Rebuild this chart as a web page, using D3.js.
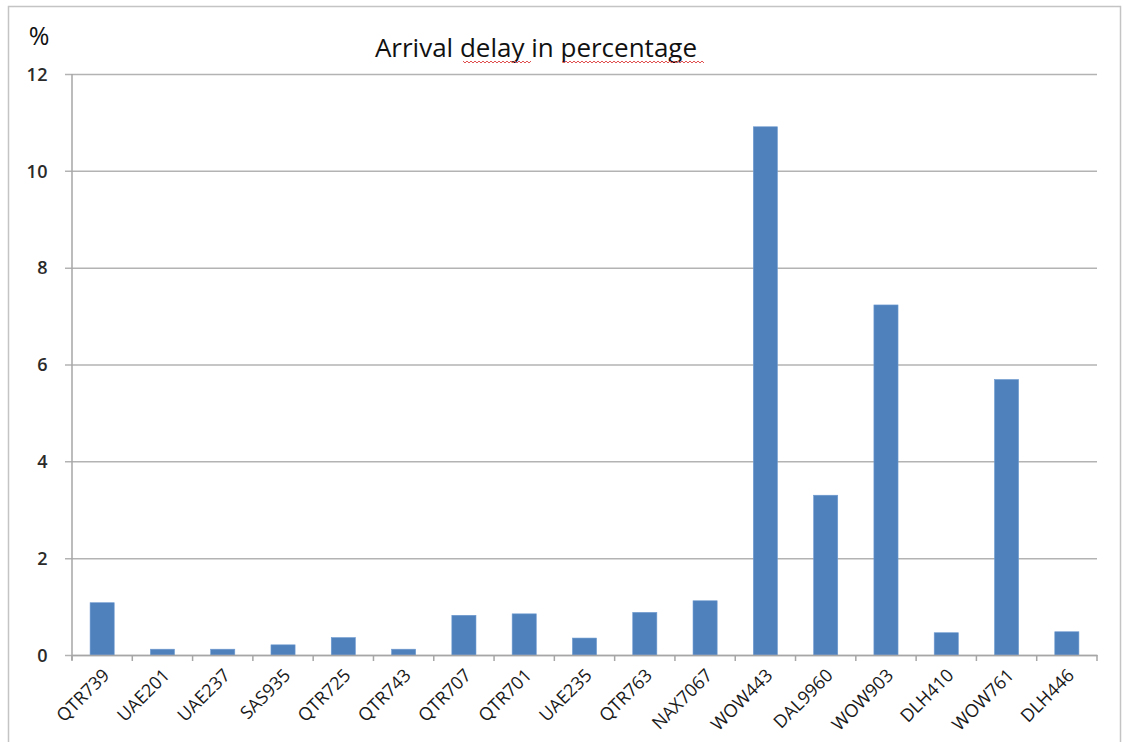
<!DOCTYPE html>
<html>
<head>
<meta charset="utf-8">
<script src="https://cdn.jsdelivr.net/npm/d3@7"></script>
<style>
  html, body { margin: 0; padding: 0; background: #fff; }
  svg { display: block; }
</style>
</head>
<body>
<svg id="chart" width="1123" height="742"></svg>
<script>
// Flights and their arrival delay share (%)
const flights = ["QTR739", "UAE201", "UAE237", "SAS935", "QTR725", "QTR743", "QTR707", "QTR701",
                 "UAE235", "QTR763", "NAX7067", "WOW443", "DAL9960", "WOW903", "DLH410", "WOW761", "DLH446"];
const delayPct = [1.08, 0.12, 0.12, 0.21, 0.36, 0.12, 0.82, 0.85,
                  0.35, 0.88, 1.12, 10.91, 3.30, 7.23, 0.46, 5.69, 0.48];
const yTicks = [0, 2, 4, 6, 8, 10, 12];
const chartTitle = "Arrival delay in percentage";
const unitLabel = "%";

const svg = d3.select("#chart");
const font = "'Open Sans', 'Noto Sans', sans-serif";

const plot = { left: 72, right: 1097, top: 74, bottom: 655 };

// outer chart frame
svg.append("rect")
  .attr("x", 8.5).attr("y", 6.5)
  .attr("width", 1112).attr("height", 760)
  .attr("fill", "#fff")
  .attr("stroke", "#c4c4c4").attr("stroke-width", 1.5);

const x = d3.scaleBand().domain(flights).range([plot.left, plot.right]).paddingInner(0).paddingOuter(0);
const y = d3.scaleLinear().domain([0, 12]).range([plot.bottom, plot.top]);

// horizontal gridlines with outward ticks
const yAxis = d3.axisLeft(y).tickValues(yTicks).tickSize(-(plot.right - plot.left)).tickFormat(d3.format("d"));
const gy = svg.append("g").attr("transform", `translate(${plot.left},0)`).call(yAxis);
gy.select(".domain").remove();
gy.selectAll(".tick line")
  .attr("x1", -7)
  .attr("stroke", "#b3b3b3").attr("stroke-width", 1.5);
gy.selectAll(".tick text")
  .attr("x", -24)
  .attr("dy", "0.35em")
  .attr("font-family", font).attr("font-size", 18).attr("font-weight", 600)
  .attr("letter-spacing", 0.5)
  .attr("fill", "#2a2a2a");

// vertical axis line
svg.append("line")
  .attr("x1", plot.left).attr("x2", plot.left)
  .attr("y1", plot.top).attr("y2", plot.bottom + 5)
  .attr("stroke", "#a6a6a6").attr("stroke-width", 1.5);

// bars
const barW = x.bandwidth() * 0.4;
svg.append("g").selectAll("rect")
  .data(flights)
  .join("rect")
  .attr("x", (d) => x(d) + (x.bandwidth() - barW) / 2)
  .attr("y", (d, i) => y(delayPct[i]))
  .attr("width", barW)
  .attr("height", (d, i) => y(0) - y(delayPct[i]))
  .attr("fill", "#4f81bd")
  .attr("stroke", "#6f9bd0").attr("stroke-width", 0.6);

// category axis
const xAxis = d3.axisBottom(x).tickSize(0).tickSizeOuter(0);
const gx = svg.append("g").attr("transform", `translate(0,${plot.bottom})`).call(xAxis);
gx.select(".domain").attr("stroke", "#a6a6a6").attr("stroke-width", 1.5);
gx.selectAll(".tick text")
  .attr("font-family", font).attr("font-size", 18)
  .attr("fill", "#1a1a1a")
  .attr("text-anchor", "end")
  .attr("transform", "translate(4,17) rotate(-45)")
  .attr("x", 0).attr("y", 0).attr("dy", "0.35em");

// tick marks on band boundaries
const bounds = flights.map((d) => x(d)).concat([plot.right]);
svg.append("g").selectAll("line")
  .data(bounds)
  .join("line")
  .attr("x1", (d) => d).attr("x2", (d) => d)
  .attr("y1", plot.bottom).attr("y2", plot.bottom + 6)
  .attr("stroke", "#a6a6a6").attr("stroke-width", 1.5);

// title
svg.append("text")
  .attr("x", 536).attr("y", 57)
  .attr("text-anchor", "middle")
  .attr("font-family", font).attr("font-size", 26)
  .attr("fill", "#111")
  .text(chartTitle);

// unit label
svg.append("text")
  .attr("x", 39).attr("y", 45)
  .attr("text-anchor", "middle")
  .attr("font-family", font).attr("font-size", 25)
  .attr("fill", "#111")
  .text(unitLabel);

// wavy spelling underline under two words of the title
function squiggle(x0, x1, yy) {
  let p = `M${x0},${yy}`;
  for (let xx = x0, k = 0; xx < x1; xx += 2, k++) {
    p += ` L${xx + 2},${yy + (k % 2 === 0 ? 2 : 0)}`;
  }
  return p;
}
svg.append("path").attr("d", squiggle(463, 530, 61))
  .attr("fill", "none").attr("stroke", "#e05050").attr("stroke-width", 1);
svg.append("path").attr("d", squiggle(562, 703, 61))
  .attr("fill", "none").attr("stroke", "#e05050").attr("stroke-width", 1);
</script>
</body>
</html>
